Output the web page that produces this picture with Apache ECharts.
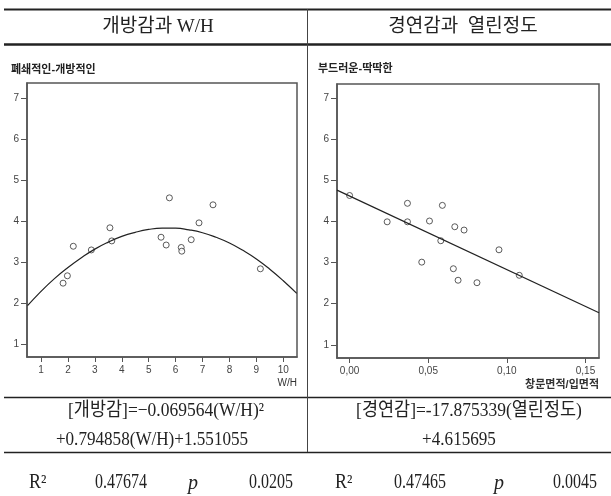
<!DOCTYPE html>
<html>
<head>
<meta charset="utf-8">
<script src="https://cdn.jsdelivr.net/npm/echarts@6.0.0/dist/echarts.min.js"></script>
<style>
  html, body { margin: 0; padding: 0; background: #fff; }
  #chart { width: 611px; height: 496px; }
</style>
</head>
<body>
<div id="chart"></div>
<script>
// left panel: 개방감 (폐쇄적인-개방적인) vs W/H
const whX   = [1.82, 1.98, 2.20, 2.87, 3.56, 3.63, 5.46, 5.65, 5.77, 6.21, 6.23, 6.58, 6.87, 7.39, 9.15];
const openY = [2.48, 2.66, 3.38, 3.29, 3.83, 3.51, 3.60, 3.41, 4.56, 3.35, 3.26, 3.54, 3.95, 4.39, 2.83];
// quadratic fit curve
const curveX = [0.5, 1, 1.5, 2, 2.5, 3, 3.5, 4, 4.5, 5, 5.5, 6, 6.5, 7, 7.5, 8, 8.5, 9, 9.5, 10, 10.5];
const curveY = [1.93, 2.28, 2.59, 2.86, 3.10, 3.31, 3.48, 3.62, 3.72, 3.79, 3.82, 3.82, 3.78, 3.71, 3.60, 3.46, 3.28, 3.07, 2.82, 2.54, 2.23];
const whTicks   = [1, 2, 3, 4, 5, 6, 7, 8, 9, 10];
const openTicks = [1, 2, 3, 4, 5, 6, 7];

// right panel: 경연감 (부드러운-딱딱한) vs 창문면적/입면적
const ratioX = [0.000, 0.0239, 0.0368, 0.0368, 0.0459, 0.0508, 0.0580, 0.0590, 0.0660, 0.0669, 0.0690, 0.0728, 0.0810, 0.0950, 0.1079];
const hardY  = [4.63, 3.99, 4.44, 3.99, 3.01, 4.01, 3.53, 4.39, 2.85, 3.87, 2.57, 3.79, 2.51, 3.31, 2.69];
const fitX = [-0.008, 0.1586];
const fitY = [4.76, 1.78];
const ratioTicks = [0, 0.05, 0.10, 0.15];
const hardTicks  = [1, 2, 3, 4, 5, 6, 7];

const serif = '"Liberation Serif", "Noto Sans CJK KR", serif';
const sans = '"Liberation Sans", "Noto Sans CJK KR", sans-serif';

const chart = echarts.init(document.getElementById('chart'), null, { renderer: 'canvas' });

function zip(xs, ys) {
  return xs.map((x, i) => [x, ys[i]]);
}

function xAxisOpt(gridIndex, min, max, ticks, fmt, name, nameStyle) {
  return {
    type: 'value',
    gridIndex: gridIndex,
    min: min,
    max: max,
    splitLine: { show: false },
    axisLine: { onZero: false, lineStyle: { color: '#555', width: 1.5 } },
    axisTick: { length: 5, customValues: ticks, lineStyle: { color: '#555' } },
    axisLabel: { customValues: ticks, formatter: fmt, color: '#444', fontSize: 10, fontFamily: sans, margin: 8 },
    name: name,
    nameLocation: 'end',
    nameGap: 0,
    nameTextStyle: Object.assign({ align: 'right', verticalAlign: 'top', padding: [21, 0, 0, 0], fontFamily: sans }, nameStyle)
  };
}

function yAxisOpt(gridIndex, min, max, ticks) {
  return {
    type: 'value',
    gridIndex: gridIndex,
    min: min,
    max: max,
    splitLine: { show: false },
    axisLine: { onZero: false, lineStyle: { color: '#555', width: 1.5 } },
    axisTick: { length: 6, customValues: ticks, lineStyle: { color: '#555' } },
    axisLabel: { customValues: ticks, color: '#444', fontSize: 10, fontFamily: sans, margin: 8 }
  };
}

const pointStyle = { color: '#fff', borderColor: '#333', borderWidth: 1 };

// table text; sx squeezes the serif face a little, like the condensed original
function txt(text, x, y, font, align, sx) {
  return {
    type: 'text', x: x, y: y, scaleX: sx || 1,
    style: { text: text, font: font, fill: '#222', align: align || 'center', textAlign: align || 'center', verticalAlign: 'middle', textVerticalAlign: 'middle' }
  };
}

function hline(y, x1, x2, w) {
  return { type: 'line', shape: { x1: x1, y1: y, x2: x2, y2: y }, style: { stroke: '#222', lineWidth: w } };
}

chart.setOption({
  backgroundColor: '#fff',
  animation: false,
  grid: [
    { left: 27, top: 83, width: 270, height: 274, show: true, borderColor: '#555', borderWidth: 1.5 },
    { left: 337, top: 84, width: 262, height: 274, show: true, borderColor: '#555', borderWidth: 1.5 }
  ],
  xAxis: [
    xAxisOpt(0, 0.48, 10.51, whTicks, v => String(v), 'W/H', { color: '#333', fontSize: 10 }),
    xAxisOpt(1, -0.008, 0.1586, ratioTicks, v => v.toFixed(2).replace('.', ','), '창문면적/입면적',
      { color: '#333', fontSize: 11, fontWeight: 'bold' })
  ],
  yAxis: [
    yAxisOpt(0, 0.68, 7.36, openTicks),
    yAxisOpt(1, 0.68, 7.34, hardTicks)
  ],
  series: [
    {
      type: 'line', xAxisIndex: 0, yAxisIndex: 0, data: zip(curveX, curveY),
      smooth: true, symbol: 'none', lineStyle: { color: '#222', width: 1.2 }
    },
    {
      type: 'scatter', xAxisIndex: 0, yAxisIndex: 0, data: zip(whX, openY),
      symbol: 'circle', symbolSize: 6, itemStyle: pointStyle
    },
    {
      type: 'line', xAxisIndex: 1, yAxisIndex: 1, data: zip(fitX, fitY),
      symbol: 'none', lineStyle: { color: '#222', width: 1.2 }
    },
    {
      type: 'scatter', xAxisIndex: 1, yAxisIndex: 1, data: zip(ratioX, hardY),
      symbol: 'circle', symbolSize: 6, itemStyle: pointStyle
    }
  ],
  graphic: [
    // table rules
    hline(9.5, 4, 611, 2),
    hline(44.5, 4, 611, 2.5),
    hline(397.5, 4, 611, 1.5),
    hline(452.5, 4, 611, 1.5),
    { type: 'line', shape: { x1: 307.5, y1: 9, x2: 307.5, y2: 452 }, style: { stroke: '#444', lineWidth: 1 } },
    // header
    txt('개방감과 W/H', 158, 27, '19px ' + serif),
    txt('경연감과  열린정도', 463, 27, '19px ' + serif),
    // plot titles
    txt('폐쇄적인-개방적인', 11, 70, 'bold 11px ' + sans, 'left'),
    txt('부드러운-딱딱한', 318, 69, 'bold 11px ' + sans, 'left'),
    // formulas
    txt('[개방감]=−0.069564(W/H)²', 166, 411, '19px ' + serif, 'center', 0.92),
    txt('+0.794858(W/H)+1.551055', 152, 440, '19px ' + serif, 'center', 0.9),
    txt('[경연감]=-17.875339(열린정도)', 469, 411, '19px ' + serif, 'center', 0.92),
    txt('+4.615695', 459, 440, '19px ' + serif, 'center', 0.9),
    // statistics row
    txt('R²', 29, 483, '20px ' + serif, 'left', 0.9),
    txt('0.47674', 121, 483, '20px ' + serif, 'center', 0.8),
    txt('p', 193, 484, 'italic 20px ' + serif),
    txt('0.0205', 293, 483, '20px ' + serif, 'right', 0.8),
    txt('R²', 335, 483, '20px ' + serif, 'left', 0.9),
    txt('0.47465', 420, 483, '20px ' + serif, 'center', 0.8),
    txt('p', 499, 484, 'italic 20px ' + serif),
    txt('0.0045', 597, 483, '20px ' + serif, 'right', 0.8)
  ]
});
</script>
</body>
</html>
